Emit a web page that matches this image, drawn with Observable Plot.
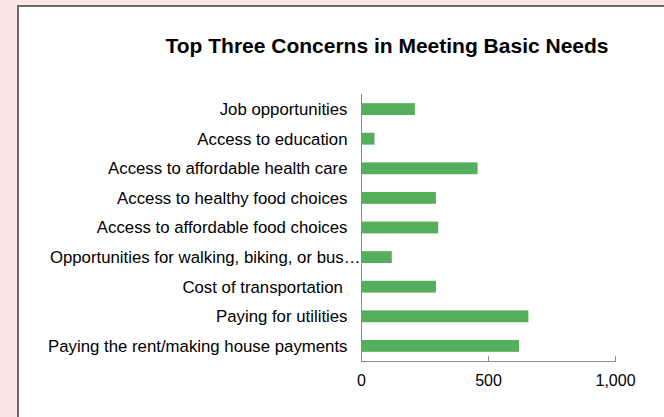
<!DOCTYPE html>
<html>
<head>
<meta charset="utf-8">
<script src="https://cdn.jsdelivr.net/npm/d3@7"></script>
<script src="https://cdn.jsdelivr.net/npm/@observablehq/plot@0.6"></script>
<style>
  html, body { margin: 0; padding: 0; }
  body { width: 664px; height: 417px; background: #fde6e6; position: relative; overflow: hidden; font-family: "Liberation Sans", Arial, sans-serif; }
  #box { position: absolute; left: 17px; top: 5px; width: 700px; height: 500px; background: #fff; border-left: 2px solid #6b6b6b; border-top: 2px solid #6b6b6b; }
  #title { position: absolute; left: 137px; width: 500px; top: 33px; text-align: center; font-weight: bold; font-size: 21px; line-height: 26px; color: #000; }
  #chart { position: absolute; left: 0; top: 0; }
</style>
</head>
<body>
<div id="box"></div>
<div id="title">Top Three Concerns in Meeting Basic Needs</div>
<div id="chart"></div>
<script>
const categories = [
  "Job opportunities",
  "Access to education",
  "Access to affordable health care",
  "Access to healthy food choices",
  "Access to affordable food choices",
  "Opportunities for walking, biking, or bus…",
  "Cost of transportation ",
  "Paying for utilities",
  "Paying the rent/making house payments"
];
const values = [212, 53, 459, 295, 304, 121, 295, 659, 622];
const xTicks = [0, 500, 1000];
const longLabel = categories[5];

const data = categories.map((c, i) => ({category: c, value: values[i]}));

const chart = Plot.plot({
  width: 664,
  height: 417,
  marginTop: 94,
  marginBottom: 56,
  marginLeft: 361,
  marginRight: 49,
  style: {background: "transparent", fontFamily: "Liberation Sans, Arial, sans-serif", fontSize: "16px", color: "#000"},
  x: {domain: [0, 1000]},
  y: {domain: categories, paddingInner: 0.6, paddingOuter: 0.31, round: false},
  marks: [
    Plot.barX(data, {y: "category", x: "value", fill: "#55ae5b"}),
    Plot.frame({anchor: "left", stroke: "#8c8c8c"}),
    Plot.frame({anchor: "bottom", stroke: "#8c8c8c"}),
    Plot.axisY({ticks: categories.filter(c => c !== longLabel), tickSize: 0, tickPadding: 14, label: null, fill: "#000", fontSize: 16.8}),
    Plot.axisY({ticks: [longLabel], tickSize: 0, tickPadding: 1, label: null, fill: "#000", fontSize: 16.8}),
    Plot.axisX({ticks: xTicks, tickSize: -5, stroke: "#8c8c8c", tickPadding: 18, tickFormat: d3.format(","), label: null, fill: "#000", fontSize: 16})
  ]
});
document.getElementById("chart").appendChild(chart);
</script>
</body>
</html>
